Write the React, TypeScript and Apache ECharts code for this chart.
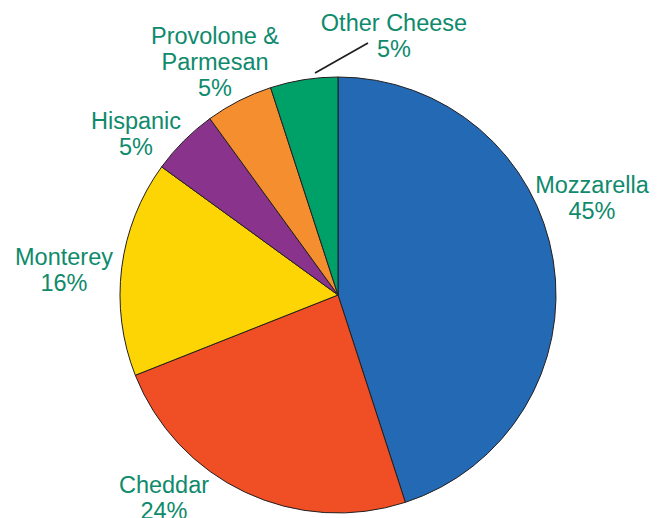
import React, { useEffect, useRef } from "react";
import * as echarts from "echarts";

const categories = ["Mozzarella", "Cheddar", "Monterey", "Hispanic", "Provolone &\nParmesan", "Other Cheese"];
const shares = [45, 24, 16, 5, 5, 5];
const sliceColors = ["#2369B3", "#F04E25", "#FDD505", "#8A338D", "#F48E2E", "#00A168"];

// label block centres (layout only)
const labelSpots: [number, number][] = [
  [592, 198],
  [164, 498],
  [64, 270],
  [136, 134],
  [215, 62],
  [394, 36],
];

export default function App() {
  const ref = useRef<HTMLDivElement>(null);
  useEffect(() => {
    if (!ref.current) return;
    const chart = echarts.init(ref.current, undefined, { renderer: "svg" });
    chart.setOption({
      animation: false,
      backgroundColor: "#ffffff",
      series: [
        {
          type: "pie",
          center: [338, 295],
          radius: 218,
          startAngle: 90,
          clockwise: true,
          silent: true,
          avoidLabelOverlap: false,
          data: categories.map((name, i) => ({
            name,
            value: shares[i],
            itemStyle: { color: sliceColors[i] },
          })),
          itemStyle: { borderColor: "#231F20", borderWidth: 1 },
          label: {
            show: true,
            position: "outside",
            formatter: (p: any) => `${p.name}\n${p.value}%`,
            color: "#0E8A6C",
            fontFamily: "'Liberation Sans', Arial, Helvetica, sans-serif",
            fontSize: 23.5,
            lineHeight: 26,
            align: "center",
            overflow: "none",
            width: 200,
          },
          labelLine: { show: false },
          labelLayout: (params: any) => {
            const s = labelSpots[params.dataIndex];
            return { x: s[0], y: s[1], align: "center", verticalAlign: "middle" };
          },
          emphasis: { disabled: true },
        },
      ],
      graphic: [
        {
          type: "line",
          shape: { x1: 315, y1: 73, x2: 368, y2: 43 },
          style: { stroke: "#231F20", lineWidth: 1.8 },
          z: 10,
        },
      ],
    });
    return () => chart.dispose();
  }, []);
  return (
    <div
      ref={ref}
      style={{ position: "fixed", left: 0, top: 0, width: 667, height: 518 }}
    />
  );
}
